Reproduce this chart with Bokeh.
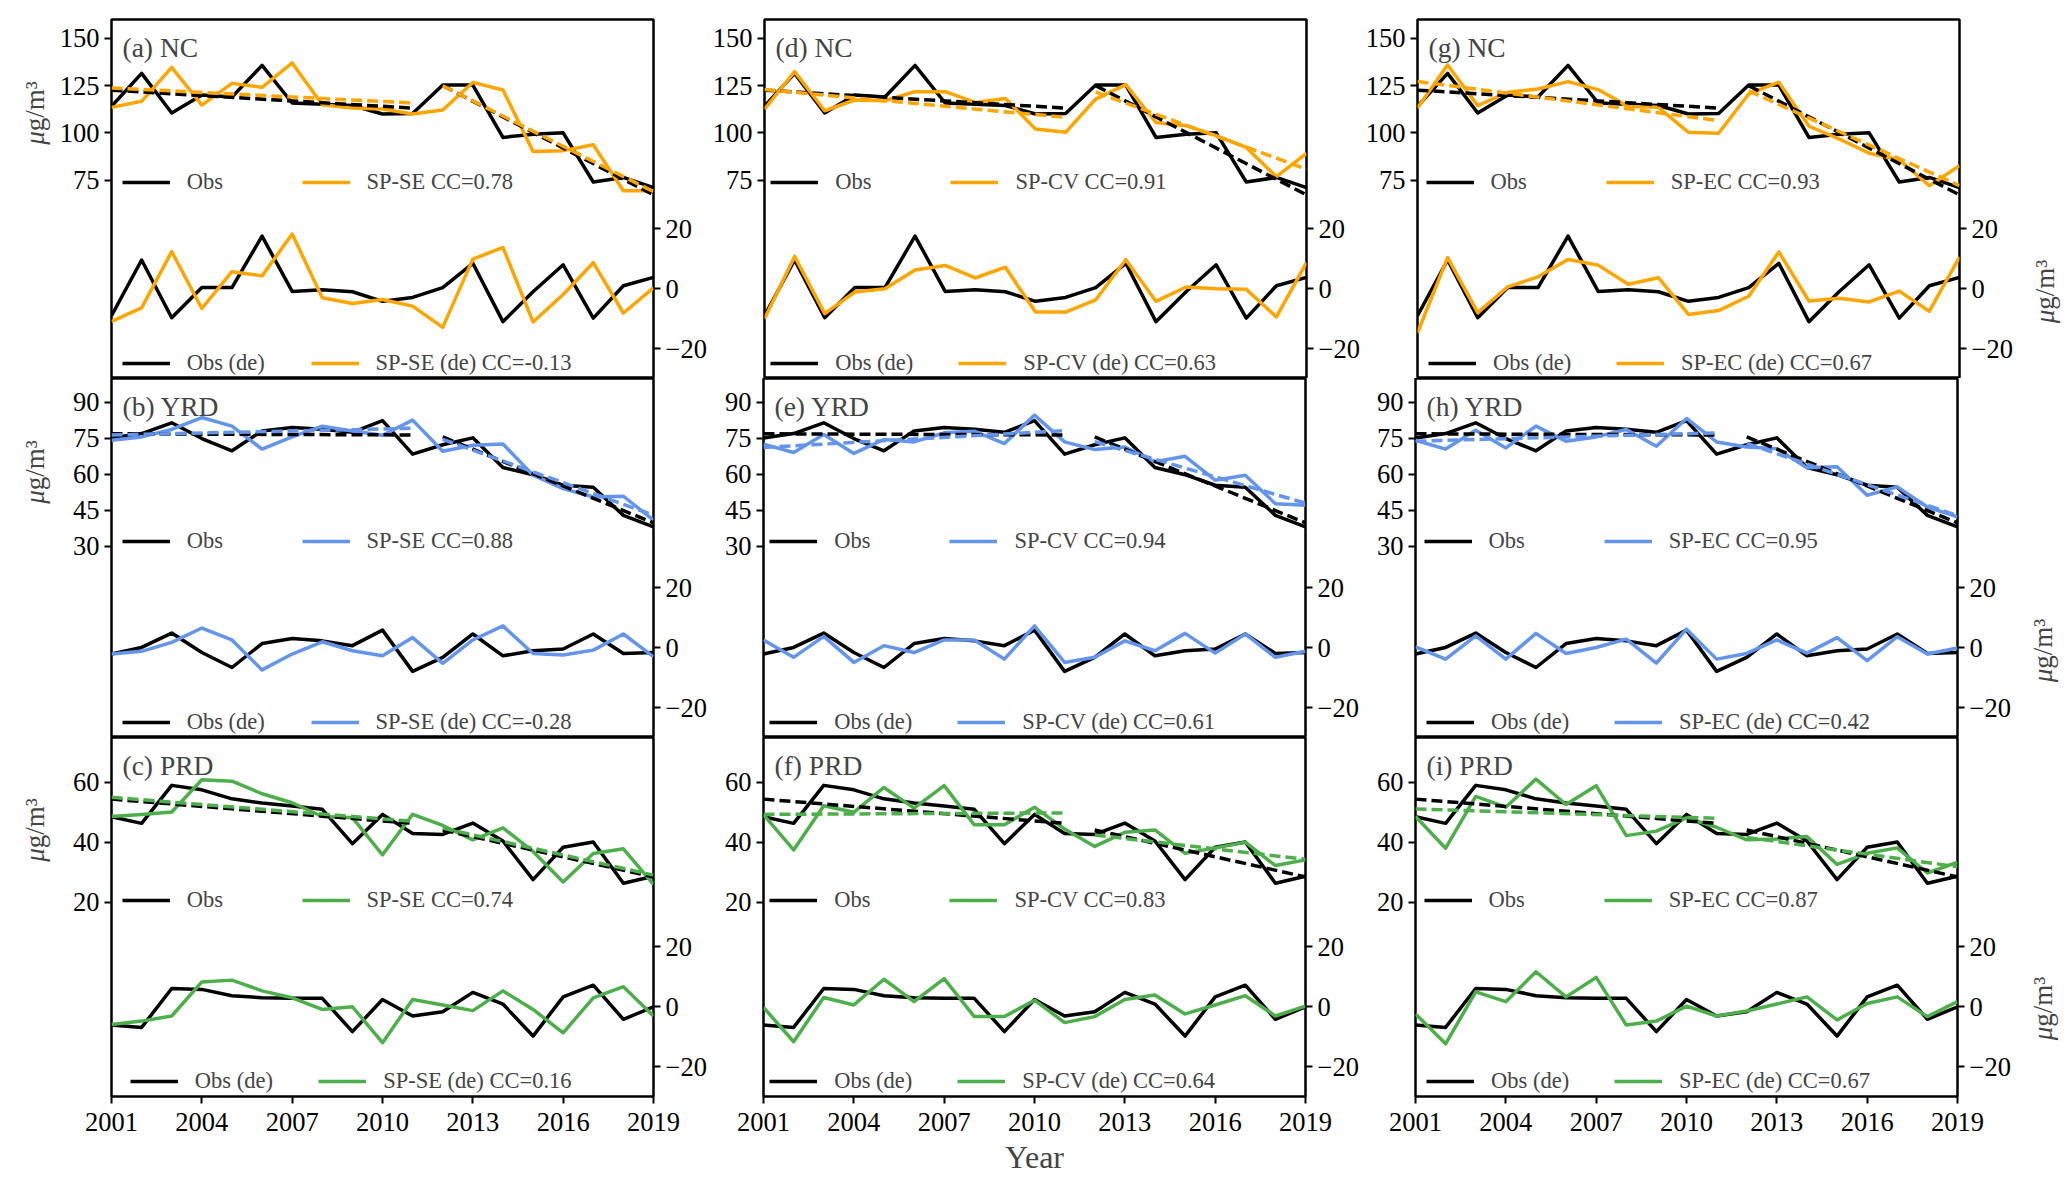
import numpy as np
from bokeh.plotting import figure
from bokeh.models import Range1d, LinearAxis, FixedTicker, Legend, LegendItem, Label
from bokeh.layouts import column, row
from bokeh.embed import file_html
from bokeh.resources import INLINE

# ---------------- data ----------------
years = list(range(2001, 2020))
xticks = [2001, 2004, 2007, 2010, 2013, 2016, 2019]
trend_years = [2001, 2011, 2012, 2019]   # two trend segments: 2001-2011, 2012-2019

regions = ["NC", "YRD", "PRD"]
models = ["SP-SE", "SP-CV", "SP-EC"]

nc_obs = [114.0, 131.5, 110.5, 120.0, 119.0, 135.7, 115.8, 115.2, 114.5, 110.0, 110.3, 125.3, 125.3, 97.6, 99.3, 100.0, 74.0, 76.4, 71.0]
nc_obs_de = [-9.0, 9.6, -9.7, 0.4, 0.4, 17.6, -0.9, -0.3, -1.0, -4.2, -2.9, 0.4, 8.5, -11.0, -1.0, 8.0, -9.8, 1.0, 3.8]
nc_se = [113.5, 116.7, 134.7, 114.7, 126.2, 124.1, 137.0, 114.9, 113.1, 112.6, 110.0, 112.1, 126.7, 122.7, 90.2, 90.6, 93.7, 69.4, 69.4]
nc_se_de = [-10.9, -6.4, 12.4, -6.6, 5.7, 4.3, 18.3, -3.0, -4.9, -3.6, -5.8, -12.9, 9.9, 13.8, -11.1, -1.9, 8.7, -8.1, 0.3]
nc_cv = [112.6, 132.4, 111.7, 117.4, 117.0, 121.8, 121.8, 116.1, 118.2, 102.0, 100.3, 117.9, 125.5, 105.5, 103.8, 98.5, 92.3, 76.8, 89.1]
nc_cv_de = [-10.0, 10.8, -8.3, -1.1, 0.0, 6.3, 7.8, 3.6, 7.2, -7.8, -7.8, -3.7, 9.7, -4.2, 0.6, 0.0, -0.2, -9.4, 8.7]
nc_ec = [113.2, 135.9, 114.4, 121.5, 123.2, 127.1, 122.9, 113.9, 113.5, 100.3, 99.8, 120.6, 126.8, 103.5, 96.8, 89.2, 85.8, 72.0, 82.6]
nc_ec_de = [-14.7, 10.4, -8.0, 0.6, 4.0, 9.8, 7.9, 1.5, 3.7, -8.6, -7.3, -2.5, 12.3, -4.1, -3.2, -4.4, -0.8, -7.5, 10.6]

yrd_obs = [75.1, 77.0, 81.5, 74.9, 69.8, 78.1, 79.5, 78.8, 77.5, 82.4, 68.4, 72.3, 75.2, 62.8, 59.8, 55.4, 54.6, 42.8, 38.0]
yrd_obs_de = [-2.1, 0.1, 4.9, -1.6, -6.6, 1.4, 3.1, 2.3, 0.7, 5.9, -7.9, -3.2, 4.6, -2.7, -1.0, -0.4, 4.6, -1.9, -1.6]
yrd_se = [74.2, 75.6, 78.7, 83.7, 80.1, 70.5, 75.6, 80.1, 78.1, 76.3, 82.6, 69.6, 72.1, 72.6, 59.6, 54.0, 50.5, 50.8, 40.8]
yrd_se_de = [-2.1, -1.2, 1.8, 6.6, 2.6, -7.4, -2.1, 2.0, -1.0, -2.7, 3.4, -5.2, 2.6, 7.3, -1.9, -2.4, -0.8, 4.6, -3.0]
yrd_cv = [72.6, 69.1, 76.6, 68.7, 74.5, 73.5, 77.3, 78.0, 72.8, 84.7, 73.5, 70.3, 71.4, 65.2, 67.5, 57.5, 59.6, 47.7, 47.0]
yrd_cv_de = [2.6, -3.2, 3.8, -4.9, 0.7, -1.6, 2.6, 2.6, -3.8, 7.3, -4.9, -3.2, 2.3, -1.0, 4.8, -1.8, 4.6, -3.2, -1.2]
yrd_ec = [74.2, 70.5, 78.4, 71.0, 80.1, 73.8, 75.6, 78.7, 71.7, 83.3, 73.5, 71.4, 70.7, 62.7, 63.1, 51.2, 54.7, 46.3, 42.2]
yrd_ec_de = [0.3, -3.8, 4.0, -3.8, 4.8, -1.9, 0.1, 2.9, -5.1, 6.2, -3.8, -1.9, 2.6, -1.8, 3.4, -4.3, 3.7, -2.1, -0.1]

prd_obs = [48.5, 46.3, 59.0, 57.5, 54.5, 53.1, 52.1, 51.0, 39.5, 49.3, 42.9, 42.6, 46.4, 40.4, 27.5, 38.3, 40.1, 26.3, 28.6]
prd_obs_de = [-6.1, -6.9, 6.1, 5.8, 3.7, 3.0, 2.8, 2.8, -8.3, 2.4, -3.1, -1.7, 4.8, 0.9, -9.8, 3.3, 7.2, -4.2, 0.0]
prd_se = [48.6, 49.3, 50.1, 60.9, 60.4, 56.2, 53.2, 48.6, 48.2, 35.8, 49.3, 45.6, 40.8, 44.8, 36.9, 26.7, 36.2, 37.8, 25.9]
prd_se_de = [-5.9, -4.8, -3.1, 8.3, 8.9, 5.3, 3.0, -0.9, 0.0, -12.0, 2.4, 0.6, -1.3, 5.3, -0.9, -8.7, 3.0, 6.7, -3.1]
prd_cv = [49.2, 37.4, 52.2, 50.0, 58.3, 51.4, 58.9, 45.8, 45.8, 51.7, 44.4, 38.6, 43.3, 44.1, 36.3, 38.1, 40.0, 32.2, 34.1]
prd_cv_de = [-0.2, -11.7, 3.1, 0.6, 9.2, 1.7, 9.4, -3.3, -3.3, 2.2, -5.3, -3.3, 2.4, 3.9, -2.4, 0.6, 3.7, -3.1, 0.2]
prd_ec = [48.6, 38.0, 55.3, 51.7, 61.1, 52.6, 58.9, 42.2, 43.7, 48.1, 45.0, 40.8, 41.1, 41.9, 32.6, 36.3, 38.1, 29.7, 33.3]
prd_ec_de = [-2.4, -12.4, 5.0, 1.7, 11.7, 3.3, 9.8, -6.1, -4.8, 0.2, -3.1, -1.4, 0.9, 3.3, -4.4, 1.1, 3.3, -3.3, 1.7]

# trend endpoints at 2001, 2011 | 2012, 2019
nc_obs_tr = [122.6, 113.1, 125.0, 67.2]
nc_se_tr = [123.8, 115.8, 124.9, 68.9]
nc_cv_tr = [122.9, 108.2, 121.6, 80.8]
nc_ec_tr = [127.2, 106.5, 122.2, 72.1]
yrd_obs_tr = [76.9, 76.4, 75.6, 39.7]
yrd_se_tr = [76.4, 79.2, 74.6, 42.9]
yrd_cv_tr = [71.2, 78.2, 73.6, 47.9]
yrd_ec_tr = [73.8, 77.3, 72.9, 42.7]
prd_obs_tr = [54.4, 46.3, 44.1, 28.4]
prd_se_tr = [55.0, 47.0, 44.7, 29.0]
prd_cv_tr = [49.3, 49.8, 42.4, 34.3]
prd_ec_tr = [51.1, 48.0, 41.6, 31.8]

# correlation coefficients (raw, detrended)
nc_cc = [(0.78, -0.13), (0.91, 0.63), (0.93, 0.67)]
yrd_cc = [(0.88, -0.28), (0.94, 0.61), (0.95, 0.42)]
prd_cc = [(0.74, 0.16), (0.83, 0.64), (0.87, 0.67)]

obs = {"NC": nc_obs, "YRD": yrd_obs, "PRD": prd_obs}
obs_de = {"NC": nc_obs_de, "YRD": yrd_obs_de, "PRD": prd_obs_de}
obs_tr = {"NC": nc_obs_tr, "YRD": yrd_obs_tr, "PRD": prd_obs_tr}
sim = {"NC": [nc_se, nc_cv, nc_ec], "YRD": [yrd_se, yrd_cv, yrd_ec], "PRD": [prd_se, prd_cv, prd_ec]}
sim_de = {"NC": [nc_se_de, nc_cv_de, nc_ec_de], "YRD": [yrd_se_de, yrd_cv_de, yrd_ec_de],
          "PRD": [prd_se_de, prd_cv_de, prd_ec_de]}
sim_tr = {"NC": [nc_se_tr, nc_cv_tr, nc_ec_tr], "YRD": [yrd_se_tr, yrd_cv_tr, yrd_ec_tr],
          "PRD": [prd_se_tr, prd_cv_tr, prd_ec_tr]}
ccs = {"NC": nc_cc, "YRD": yrd_cc, "PRD": prd_cc}

# ---------------- styling / layout ----------------
FONT = "Liberation Serif"
colors = {"NC": "#FFA500", "YRD": "#6495ED", "PRD": "#4DAF4A"}
left_ranges = {"NC": (-30, 160), "YRD": (-50, 100), "PRD": (-45, 75)}
left_ticks = {"NC": [75, 100, 125, 150], "YRD": [30, 45, 60, 75, 90], "PRD": [20, 40, 60]}
letters = [["a", "d", "g"], ["b", "e", "h"], ["c", "f", "i"]]

FW, FH = 542, 359
col_borders = [(59, 55), (54, 54), (54, 55)]
row_borders = [(19, 0), (0, 0), (0, 80)]
row_heights = [19 + FH, FH, FH + 80]
LAB_L_W, LAB_R_W = 52, 50
YLAB_L, YLAB_R = 265.5, 87     # label centre, px above the bottom of the (aligned) frame
# legend entry x positions (px from frame left): upper e1, upper e2, lower e1, lower e2
leg_x = {0: (10.7, 190.5, 10.7, 199.6), 1: (6.2, 186.4, 6.2, 194.2), 2: (8.6, 188.7, 11.1, 199.1)}
LW = 3.5
DASH = "11 5"
LH = 28
TICK_FS = "26.5px"


def add_leg(p, r, text, x, yc):
    leg = Legend(items=[LegendItem(label=text, renderers=[r])], location=(x, yc - LH / 2),
                 orientation="horizontal", padding=0, margin=0, spacing=0,
                 glyph_width=48, glyph_height=LH, label_height=LH, label_standoff=17,
                 label_text_font=FONT, label_text_font_size="22.5px",
                 border_line_color=None, background_fill_alpha=0)
    p.add_layout(leg, "center")


def ylabel_strip(width, height, xc, yc, bt, bb):
    s = figure(width=width, height=height, x_axis_type=None, y_axis_type=None,
               toolbar_location=None, output_backend="svg",
               min_border_left=0, min_border_right=0, min_border_top=bt, min_border_bottom=bb)
    s.outline_line_color = None
    s.background_fill_color = "white"
    s.border_fill_color = "white"
    fs = 27
    mu_w, rest_w = 0.5 * fs, 1.857 * fs
    split = yc - (mu_w + rest_w) / 2 + mu_w
    s.add_layout(Label(x=xc, y=split, x_units="screen", y_units="screen", text="\u03bc",
                       angle=np.pi / 2, text_font=FONT, text_font_size=f"{fs}px",
                       text_font_style="italic", text_align="right", text_baseline="middle"))
    s.add_layout(Label(x=xc, y=split, x_units="screen", y_units="screen", text="g/m\u00b3",
                       angle=np.pi / 2, text_font=FONT, text_font_size=f"{fs}px",
                       text_align="left", text_baseline="middle"))
    return s


rows = []
for ri, reg in enumerate(regions):
    bt, bb = row_borders[ri]
    figs = [ylabel_strip(LAB_L_W, row_heights[ri], 34.6, YLAB_L, bt, bb)]
    for ci, mod in enumerate(models):
        bl, br = col_borders[ci]
        p = figure(frame_width=FW, frame_height=FH, x_range=Range1d(2001, 2019),
                   y_range=Range1d(*left_ranges[reg]), output_backend="svg",
                   toolbar_location=None, min_border_left=bl, min_border_right=br,
                   min_border_top=bt, min_border_bottom=bb)
        p.extra_y_ranges = {"de": Range1d(-30, 90)}
        p.add_layout(LinearAxis(y_range_name="de"), "right")
        p.grid.visible = False
        p.outline_line_color = "black"
        p.outline_line_width = 2.5
        p.background_fill_color = "white"
        p.border_fill_color = "white"

        ly, ry = p.yaxis[0], p.yaxis[1]
        ly.ticker = FixedTicker(ticks=left_ticks[reg])
        ry.ticker = FixedTicker(ticks=[-20, 0, 20])
        ry.major_label_overrides = {-20: "\u221220", 0: "0", 20: "20"}
        for ax in (ly, ry, p.xaxis[0]):
            ax.axis_line_color = None
            ax.major_tick_line_width = 2
            ax.major_tick_out = 7
            ax.major_tick_in = 0
            ax.minor_tick_line_color = None
            ax.major_label_text_font = FONT
            ax.major_label_text_font_size = TICK_FS
            ax.major_label_text_color = "black"
            ax.major_label_standoff = 5
        xa = p.xaxis[0]
        xa.ticker = FixedTicker(ticks=xticks)
        xa.major_label_standoff = 9
        if ri < 2:
            xa.visible = False
        elif ci == 1:
            xa.axis_label = "Year"
            xa.axis_label_text_font = FONT
            xa.axis_label_text_font_size = "32px"
            xa.axis_label_text_font_style = "normal"
            xa.axis_label_standoff = 5

        col = colors[reg]
        r_obs = p.line(years, obs[reg], color="black", line_width=LW, line_join="round")
        r_sim = p.line(years, sim[reg][ci], color=col, line_width=LW, line_join="round")
        ot, st = obs_tr[reg], sim_tr[reg][ci]
        p.line(trend_years[:2], ot[:2], color="black", line_width=LW, line_dash=DASH)
        p.line(trend_years[2:], ot[2:], color="black", line_width=LW, line_dash=DASH)
        p.line(trend_years[:2], st[:2], color=col, line_width=LW, line_dash=DASH)
        p.line(trend_years[2:], st[2:], color=col, line_width=LW, line_dash=DASH)
        r_obs_de = p.line(years, obs_de[reg], color="black", line_width=LW, line_join="round",
                          y_range_name="de")
        r_sim_de = p.line(years, sim_de[reg][ci], color=col, line_width=LW, line_join="round",
                          y_range_name="de")

        cc, cc_de = ccs[reg][ci]
        ux1, ux2, lx1, lx2 = leg_x[ci]
        if ri == 2 and ci == 0:
            lx1, lx2 = 18.8, 207.2
        add_leg(p, r_obs, "Obs", ux1, FH - 163)
        add_leg(p, r_sim, f"{mod} CC={cc:.2f}", ux2, FH - 163)
        add_leg(p, r_obs_de, "Obs (de)", lx1, FH - 344)
        add_leg(p, r_sim_de, f"{mod} (de) CC={cc_de:.2f}", lx2, FH - 344)

        p.add_layout(Label(x=11, y=FH - 28, x_units="screen", y_units="screen",
                           text=f"({letters[ri][ci]}) {reg}", text_font=FONT,
                           text_font_size="27.5px", text_baseline="middle", text_align="left"))
        figs.append(p)
    figs.append(ylabel_strip(LAB_R_W, row_heights[ri], 29, YLAB_R, bt, bb))
    rows.append(row(*figs))

layout = column(*rows)
open("out.html", "w").write(file_html(layout, INLINE))
